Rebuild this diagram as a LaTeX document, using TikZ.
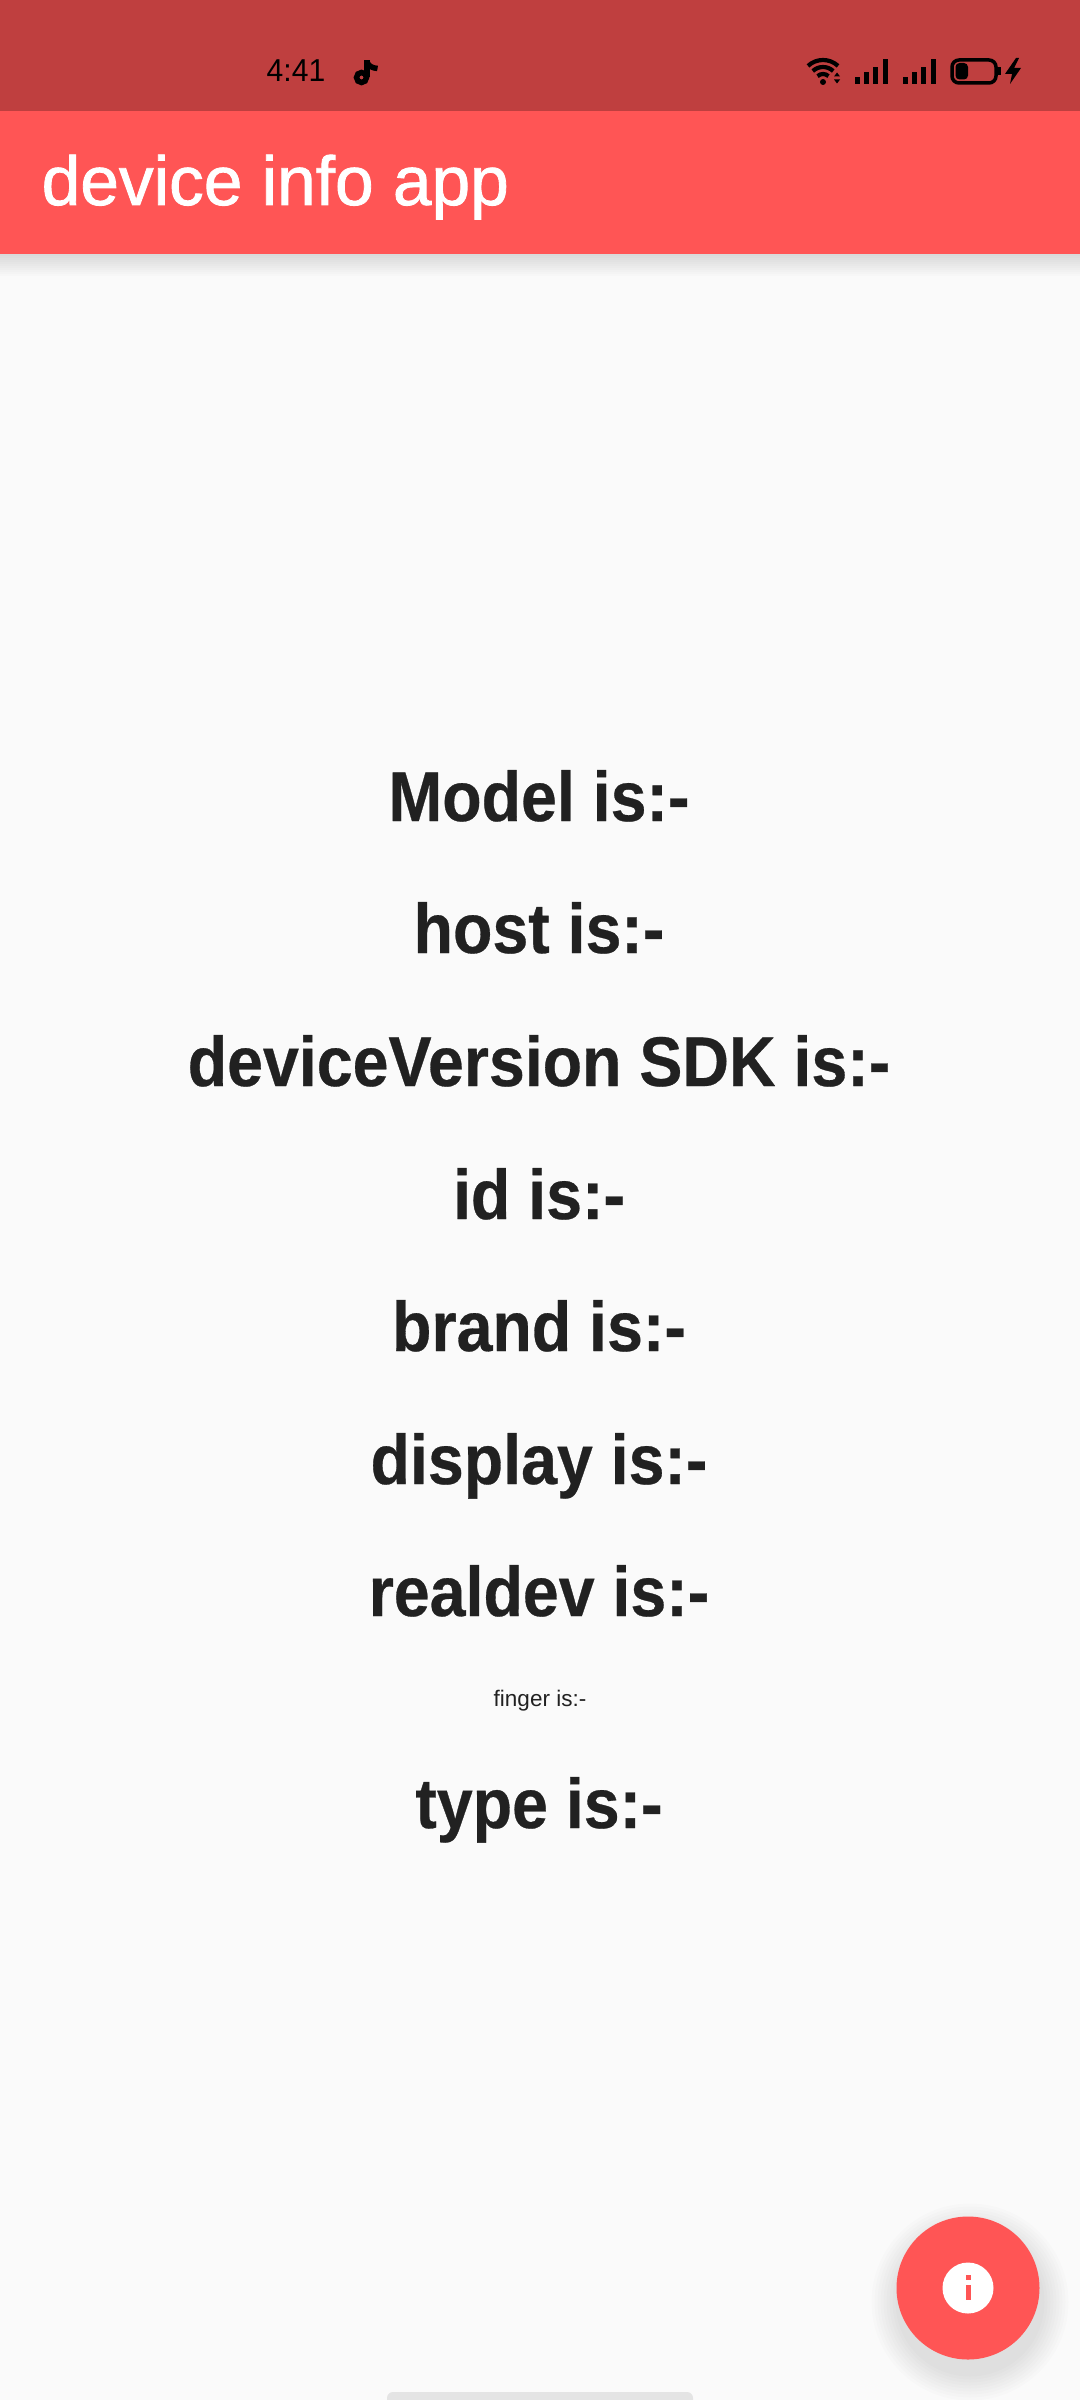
\documentclass[tikz,border=0pt]{standalone}
\usepackage{fontspec}
\setmainfont{Liberation Sans}
\newfontfamily\titlefont[FakeBold=1.2]{Liberation Sans}
\newfontfamily\rowfont[FakeStretch=0.917,FakeBold=0.4]{Liberation Sans Bold}
\newfontfamily\clockfont[FakeStretch=0.95]{Liberation Sans}
\usetikzlibrary{positioning}
\definecolor{statusred}{HTML}{BF3F3F}
\definecolor{barred}{HTML}{FF5555}
\definecolor{pagegray}{HTML}{FAFAFA}
\definecolor{inkgray}{HTML}{212121}
\definecolor{homegray}{HTML}{E4E4E4}
\tikzset{
  rowlabel/.style={anchor=base,text=inkgray,inner sep=0pt,font=\fontsize{20}{24}\selectfont\rowfont},
  smalllabel/.style={anchor=base,text=inkgray,inner sep=0pt,font=\fontsize{6.4}{8}\selectfont},
  statusicon/.style={fill=black,draw=none},
}
\begin{document}
\begin{tikzpicture}[x=0.01cm,y=-0.01cm]
  \useasboundingbox (0,0) rectangle (1080,2400);
  \fill[pagegray] (0,0) rectangle (1080,2400);
  % app bar shadow
  \foreach \d in {2,4,...,22}{
    \fill[black,opacity=0.012] (0,254) rectangle (1080,254+\d);
  }
  \fill[statusred] (0,0) rectangle (1080,111);
  \fill[barred] (0,111) rectangle (1080,254);
  \node (title) at (41,205) [anchor=base west,inner sep=0pt,text=white,font=\fontsize{19.75}{22}\selectfont\titlefont] {device info app};
  \node (clock) at (266,82) [anchor=base west,inner sep=0pt,text=black,font=\fontsize{9}{10}\selectfont\clockfont] {4:41};
  % tiktok note
  \draw[line width=0.55mm] (361.5,77.5) circle (5);
  \draw[line width=0.55mm] (367,77.5) -- (367,60);
  \draw[line width=0.55mm] (367,62) .. controls (368.5,66) and (372,68) .. (377.5,68.5);
  % wifi
  \foreach \r in {8,15,22}{
    \draw[line width=0.42mm] (823,82)++(-47:\r) arc[start angle=-47,end angle=-133,radius=\r];
  }
  \fill[statusicon] (823,82) circle (3);
  \fill[statusicon] (837,72.5) -- (840,76.5) -- (834,76.5) -- cycle;
  \fill[statusicon] (837,83.5) -- (840,79.5) -- (834,79.5) -- cycle;
  % signal bars
  \foreach \x/\t in {855/77,864/72,873/67,883/59,903/77,912/72,921/67,931/59}{
    \fill[statusicon] (\x,\t) rectangle (\x+4.5,84);
  }
  % battery
  \draw[line width=0.35mm,rounded corners=0.7mm] (952,60) rectangle (996,83);
  \fill[statusicon,rounded corners=0.4mm] (955.5,63) rectangle (968,79.5);
  \fill[statusicon] (998,67) rectangle (1000.5,75);
  \fill[statusicon] (1016,58) -- (1005,74) -- (1012,74) -- (1010,84) -- (1021,68) -- (1014,68) -- (1019,58) -- cycle;
  % rows
  \node (model) at (539,821) [rowlabel] {Model is:-};
  \node (host) at (539,953) [rowlabel] {host is:-};
  \node (sdk) at (539,1086) [rowlabel] {deviceVersion SDK is:-};
  \node (id) at (539,1219) [rowlabel] {id is:-};
  \node (brand) at (539,1351) [rowlabel] {brand is:-};
  \node (display) at (539,1484) [rowlabel] {display is:-};
  \node (realdev) at (539,1616) [rowlabel] {realdev is:-};
  \node (finger) at (540,1706) [smalllabel] {finger is:-};
  \node (type) at (539,1828) [rowlabel] {type is:-};
  % fab
  \foreach \d in {27,24,...,3}{
    \fill[black,opacity=0.012] (970,2302) circle (71.5+\d);
  }
  \fill[barred] (968,2288) circle (71.5);
  \fill[white] (968,2288) circle (25.5);
  \fill[barred] (965.5,2275) rectangle (970.5,2280);
  \fill[barred] (965.5,2285) rectangle (970.5,2300);
  % home bar
  \fill[homegray,rounded corners=0.6mm] (387,2392) rectangle (693,2410);
\end{tikzpicture}
\end{document}
